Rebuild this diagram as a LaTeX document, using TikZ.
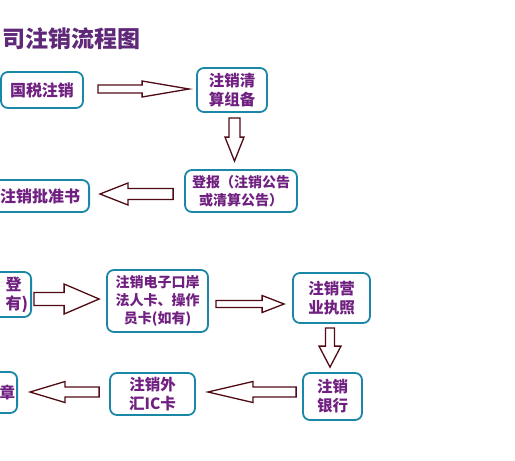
\documentclass[tikz,border=0pt]{standalone}
\usepackage{fontspec}
\newfontfamily\cjk{Noto Sans CJK SC}
\usetikzlibrary{calc}
\definecolor{boxteal}{RGB}{25,135,165}
\definecolor{txtpurple}{RGB}{112,32,128}
\definecolor{titlepurple}{RGB}{95,40,120}
\definecolor{arrowdark}{RGB}{80,10,20}

\begin{document}
\begin{tikzpicture}[x=1pt, y=-1pt,
	box/.style={draw=boxteal, line width=1.8pt, rounded corners=7pt, fill=white, text=txtpurple,
		font=\cjk\bfseries\fontsize{15.5}{19}\selectfont, align=center, inner sep=3pt},
	small/.style={font=\cjk\bfseries\fontsize{14}{18}\selectfont},
	big/.style={font=\cjk\bfseries\fontsize{16}{19}\selectfont},
	title/.style={text=titlepurple, font=\cjk\bfseries\fontsize{23}{26}\selectfont, inner sep=0pt},
	% hollow block arrow: shaft half width, head half width, head length
	blk/.style n args={3}{draw=arrowdark, fill=white, line width=1.3pt, line join=miter,
		to path={let \p1=(\tikztostart), \p2=(\tikztotarget), \p3=($(\p2)!#3!(\p1)$) in
			($(\p1)!#1!90:(\p2)$) -- ($(\p3)!#1!90:(\p2)$) -- ($(\p3)!#2!90:(\p2)$) -- (\p2)
			-- ($(\p3)!#2!-90:(\p2)$) -- ($(\p3)!#1!-90:(\p2)$) -- ($(\p1)!#1!-90:(\p2)$) -- cycle}}]
	\useasboundingbox (0,0) rectangle (515,461);
	\fill[white] (0,0) rectangle (515,461);
	\clip (0,0) rectangle (515,461);

	\node[title, anchor=west] (title) at (2,39) {司注销流程图};

	% upper part
	\node[box, big, minimum width=82, minimum height=36] (n1) at (42,90) {国税注销};
	\node[box, minimum width=70, minimum height=44] (n2) at (232,90) {注销清\\算组备};
	\node[box, small, minimum width=112, minimum height=42] (n3) at (241,191) {登报（注销公告\\或清算公告）};
	\node[box, big, minimum width=98, minimum height=32, anchor=east] (n4) at (90,196) {注销批准书};

	\draw[blk={4pt}{8pt}{47pt}] ($(n1.east)+(14,-1)$) to ($(n2.west)+(-7,-1)$);
	\draw[blk={5.5pt}{9.5pt}{24pt}] ($(n2.south)+(2.5,5)$) to ($(n2.south |- n3.north)+(2.5,-8)$);
	\draw[blk={5.5pt}{11pt}{28pt}] ($(n3.west)+(-11,3)$) to ($(n4.east |- n3.west)+(10,3)$);

	% lower part
	\node[box, big, text width=50pt, align=right, minimum height=45, anchor=east] (n5) at (32,294.5) {登\phantom{)}\\有)};
	\node[box, small, minimum width=101, minimum height=62] (n6) at (157.5,301) {注销电子口岸\\法人卡、操作\\员卡(如有)};
	\node[box, minimum width=77, minimum height=50] (n7) at (331.5,298) {注销营\\业执照};
	\node[box, minimum width=59, minimum height=47] (n8) at (332.5,396.5) {注销\\银行};
	\node[box, minimum width=85, minimum height=42] (n9) at (152.5,394) {注销外\\汇IC卡};
	\node[box, text width=40pt, align=right, inner xsep=2pt, minimum height=41, anchor=east] (n10) at (18,392.5) {章};

	\draw[blk={6.5pt}{15pt}{35pt}] ($(n5.east |- n6.west)+(2,-2)$) to ($(n6.west)+(-7,-2)$);
	\draw[blk={3.5pt}{8.5pt}{22pt}] ($(n6.east)+(7,3)$) to ($(n7.west |- n6.east)+(-8,3)$);
	\draw[blk={4.5pt}{11pt}{21pt}] ($(n7.south)+(-1.5,4)$) to ($(n7.south |- n8.north)+(-1.5,-5)$);
	\draw[blk={5pt}{10.5pt}{45pt}] ($(n8.west)+(-6,-4.5)$) to ($(n9.east |- n8.west)+(12,-4.5)$);
	\draw[blk={5pt}{10.5pt}{35pt}] ($(n9.west)+(-10,-2)$) to ($(n10.east |- n9.west)+(12,-2)$);
\end{tikzpicture}
\end{document}
